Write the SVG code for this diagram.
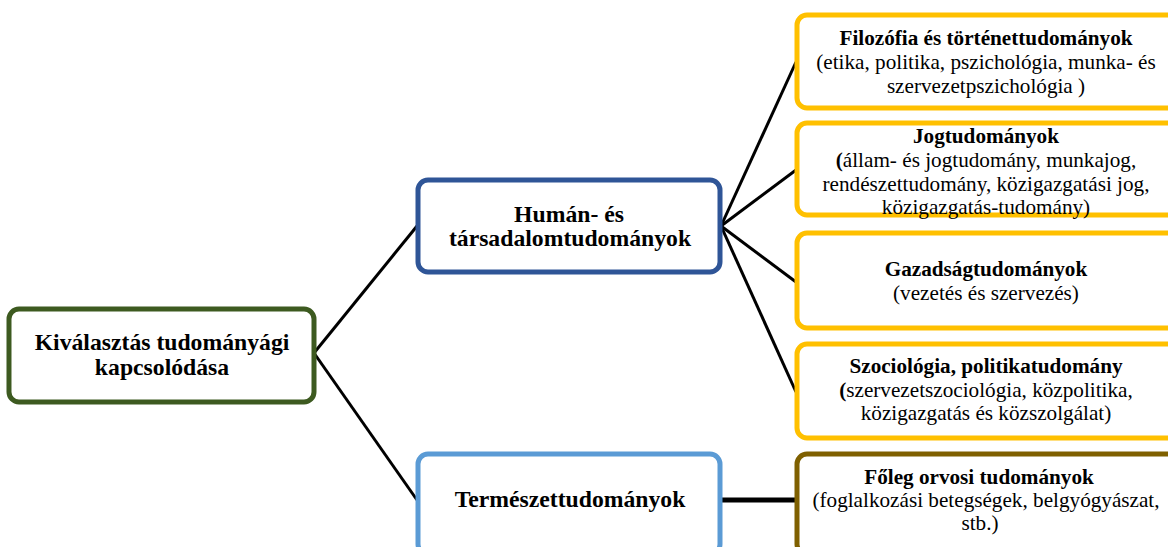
<svg xmlns="http://www.w3.org/2000/svg" width="1168" height="547" viewBox="0 0 1168 547">
<style>
.box{fill:#ffffff;stroke-width:5}
.t{fill:#000;text-anchor:middle}
.b{font-weight:bold;font-size:23.7px}
.n{font-size:21.2px}
.s{font-weight:bold;font-size:21.2px}
.c{stroke:#000;stroke-width:3;fill:none}
</style>
<rect width="1168" height="547" fill="#ffffff"/>
<g id="connectors">
<line class="c" x1="314" y1="353" x2="417" y2="226"/>
<line class="c" x1="314" y1="353" x2="417" y2="500"/>
<line class="c" x1="721" y1="226" x2="796" y2="62"/>
<line class="c" x1="721" y1="226" x2="796" y2="170"/>
<line class="c" x1="721" y1="226" x2="796" y2="282"/>
<line class="c" x1="721" y1="226" x2="796" y2="392"/>
<line class="c" x1="721" y1="500" x2="796" y2="500" style="stroke-width:5"/>
</g>
<g font-family="'Liberation Serif', 'Times New Roman', Times, serif">
<g id="root">
<rect class="box" x="9" y="309" width="305" height="93" rx="10" stroke="#3d5a20"/>
<text class="t b" x="162" y="350">Kiválasztás tudományági</text>
<text class="t b" x="162" y="375">kapcsolódása</text>
</g>
<g id="human">
<rect class="box" x="418" y="180" width="302" height="92" rx="10" stroke="#2f5597"/>
<text class="t b" x="569" y="222">Humán- és</text>
<text class="t b" x="570" y="246">társadalomtudományok</text>
</g>
<g id="natural">
<rect class="box" x="418" y="454" width="302" height="100" rx="10" stroke="#5b9bd5"/>
<text class="t b" x="570" y="507">Természettudományok</text>
</g>
<g id="filozofia">
<rect class="box" x="797" y="15" width="385" height="93" rx="10" stroke="#ffc000"/>
<text class="t s" x="986" y="45">Filozófia és történettudományok</text>
<text class="t n" x="986" y="69">(etika, politika, pszichológia, munka- és</text>
<text class="t n" x="986" y="93">szervezetpszichológia )</text>
</g>
<g id="jog">
<rect class="box" x="797" y="123" width="385" height="92" rx="10" stroke="#ffc000"/>
<text class="t s" x="986" y="143">Jogtudományok</text>
<text class="t n" x="986" y="167"><tspan font-weight="bold">(</tspan>állam- és jogtudomány, munkajog,</text>
<text class="t n" x="986" y="191">rendészettudomány, közigazgatási jog,</text>
<text class="t n" x="986" y="214">közigazgatás-tudomány)</text>
</g>
<g id="gazdasag">
<rect class="box" x="797" y="233" width="385" height="95" rx="10" stroke="#ffc000"/>
<text class="t s" x="986" y="276">Gazadságtudományok</text>
<text class="t n" x="986" y="300">(vezetés és szervezés)</text>
</g>
<g id="szociologia">
<rect class="box" x="797" y="344" width="385" height="94" rx="10" stroke="#ffc000"/>
<text class="t s" x="986" y="373">Szociológia, politikatudomány</text>
<text class="t n" x="986" y="397"><tspan font-weight="bold">(</tspan>szervezetszociológia, közpolitika,</text>
<text class="t n" x="986" y="420">közigazgatás és  közszolgálat)</text>
</g>
<g id="orvosi">
<rect class="box" x="797" y="454" width="385" height="100" rx="10" stroke="#7f6000"/>
<text class="t s" x="979" y="484">Főleg orvosi tudományok</text>
<text class="t n" x="986" y="507">(foglalkozási betegségek, belgyógyászat,</text>
<text class="t n" x="980" y="530">stb.)</text>
</g>
</g>
</svg>
